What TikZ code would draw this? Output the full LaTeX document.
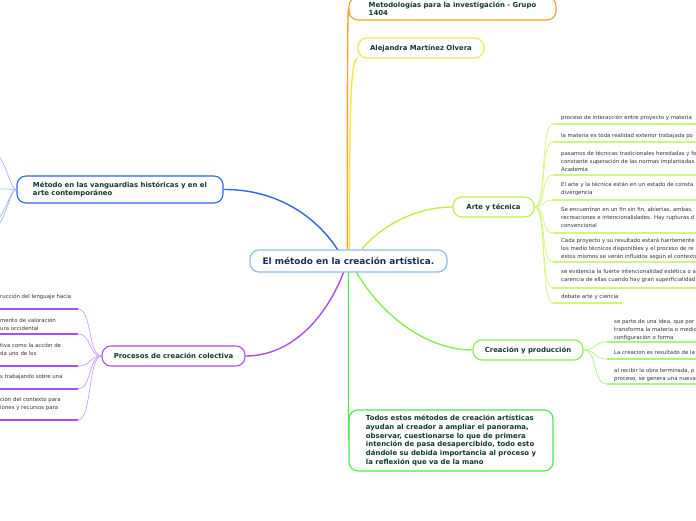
\documentclass[tikz,border=0pt]{standalone}
\usepackage{fontspec}
\setmainfont{DejaVu Sans}
\definecolor{headc}{HTML}{0F3A2E}
\definecolor{centc}{HTML}{1B2D50}
\definecolor{subtc}{HTML}{333333}
\definecolor{cbord}{HTML}{8CBDE8}
\definecolor{orng}{HTML}{F7A12C}
\definecolor{yell}{HTML}{F4E83C}
\definecolor{lime}{HTML}{BDF043}
\definecolor{limel}{HTML}{CFF57A}
\definecolor{grn}{HTML}{86EE50}
\definecolor{grnl}{HTML}{A6F57F}
\definecolor{bgrn}{HTML}{4CE84C}
\definecolor{blu}{HTML}{2F63EA}
\definecolor{blul}{HTML}{9DB6F5}
\definecolor{purp}{HTML}{A84CF5}
\definecolor{purpl}{HTML}{CF9CFA}
\begin{document}
\begin{tikzpicture}[x=1pt,y=-1pt,
  topic/.style={draw, rounded corners=9pt, fill=white, line width=1.1pt, text=headc,
    font=\bfseries\fontsize{6.9}{8}\selectfont, inner ysep=0pt, minimum height=20pt, align=left},
  central/.style={draw=cbord, rounded corners=9pt, fill=white, line width=1.2pt, text=centc,
    font=\bfseries\fontsize{8.9}{10}\selectfont, minimum width=197pt, minimum height=22pt, inner sep=0pt},
  subtext/.style={anchor=north west, inner sep=0pt, text=subtc, align=left,
    font=\fontsize{5.4}{8}\selectfont},
  mainline/.style={line width=1.4pt},
  subline/.style={line width=0.7pt},
  uline/.style={line width=1.8pt}
]
\useasboundingbox (0,0) rectangle (696,520);

% central
\node[central] (c) at (348.5,261) {El método en la creación artística.};

% topics
\node[topic, draw=orng, minimum width=207pt, minimum height=23pt] (orange) at (452.5,8.5)
  {Metodologías para la investigación - Grupo\\1404\hspace*{148pt}};
\node[topic, draw=yell, minimum width=126pt] (ale) at (421,48) {Alejandra Martínez Olvera};
\node[topic, draw=lime, minimum width=81pt] (arte) at (493.5,207) {Arte y técnica};
\node[topic, draw=grn, minimum width=110pt] (crea) at (528,350) {Creación y producción};
\node[topic, draw=bgrn, minimum width=204pt, minimum height=61pt,
  font=\bfseries\fontsize{6.9}{8.8}\selectfont] (todos) at (451,440.5)
  {Todos estos métodos de creación artísticas\\ayudan al creador a ampliar el panorama,\\observar, cuestionarse lo que de primera\\intención de pasa desapercibido, todo esto\\dándole su debida importancia al proceso y\\la reflexión que va de la mano};
\node[topic, draw=blu, minimum width=206pt, minimum height=27pt] (blue) at (120,189.5)
  {Método en las vanguardias históricas y en el\\arte contemporáneo};
\node[topic, draw=purp, minimum width=143pt] (purple) at (173.5,356) {Procesos de creación colectiva};

% main connectors
\draw[mainline, orng] ([xshift=-1.2pt]c.north) .. controls (347.3,120) and (347.3,20) .. (orange.west);
\draw[mainline, yell] ([xshift=0.8pt]c.north) .. controls (349.8,120) and (349.8,60) .. (ale.south west);
\draw[mainline, blu] ([xshift=-11pt]c.north) .. controls (315,215) and (275,189) .. (blue.east);
\draw[mainline, purp] ([xshift=-5pt]c.south) .. controls (325,320) and (290,356) .. (purple.east);
\draw[mainline, lime] ([xshift=13pt]c.north) .. controls (385,222) and (420,207) .. (arte.west);
\draw[mainline, grn] ([xshift=8pt]c.south) .. controls (385,320) and (430,350) .. (crea.west);
\draw[mainline, bgrn] (c.south) .. controls (348.5,330) and (348.5,420) .. (todos.west);

% Arte y tecnica sub-items
\foreach \n/\u in {1/124,2/142,3/175,4/200,5/233,6/262,7/288,8/303}{
  \coordinate (a\n) at (553,\u);
  \draw[subline, limel] (arte.east) .. controls (547,207) and (540,\u) .. (a\n);
}
\foreach \n in {1,...,7}{ \draw[uline, limel] (a\n) -- ++(150,0); }
\draw[uline, limel] (a8) -- (622,303);
\node[subtext] (t1) at (561,115) {proceso de interacción entre proyecto y materia};
\node[subtext] (t2) at (561,133) {la materia es toda realidad exterior trabajada po};
\node[subtext] (t3) at (561,151) {pasamos de técnicas tradicionales heredadas y fo\\constante superación de las normas implantadas\\Academia};
\node[subtext] (t4) at (561,182) {El arte y la técnica están en un estado de consta\\divergencia};
\node[subtext] (t5) at (561,207) {Se encuentran en un fin sin fin, abiertas, ambas,\\recreaciones e intencionalidades. Hay rupturas d\\convencional};
\node[subtext] (t6) at (561,238) {Cada proyecto y su resultado estará fuertemente\\los medio técnicos disponibles y el proceso de re\\estos mismos se verán influidos según el contexto};
\node[subtext] (t7) at (561,269) {se evidencia la fuerte intencionalidad estética o a\\carencia de ellas cuando hay gran superficialidad};
\node[subtext] (t8) at (561,294) {debate arte y ciencia};

% Creacion sub-items
\foreach \n/\u in {1/342,2/359,3/384}{
  \coordinate (b\n) at (607,\u);
  \draw[subline, grnl] (crea.east) .. controls (598,350) and (592,\u) .. (b\n);
  \draw[uline, grnl] (b\n) -- ++(100,0);
}
\node[subtext] (s1) at (614,319) {se parte de una idea, que por\\transforma la materia o medio\\configuración o forma};
\node[subtext] (s2) at (614,350) {La creacion es resultado de la};
\node[subtext] (s3) at (614,368) {al recibir la obra terminada, p\\proceso, se genera una nueva};

% Purple sub-items
\foreach \n/\u in {1/309,2/334,3/366,4/389,5/420}{
  \coordinate (p\n) at (78,\u);
  \draw[subline, purpl] (purple.west) .. controls (88,356) and (92,\u) .. (p\n);
  \draw[uline, purp] (p\n) -- ++(-90,0);
}
\node[subtext] (q1) at (0,294) {rucción del lenguaje hacia};
\node[subtext] (q2) at (0,318) {mento de valoración\\ura occidental};
\node[subtext] (q3) at (0,343) {tiva como la acción de\\da uno de los};
\node[subtext] (q4) at (0,374) {s trabajando sobre una};
\node[subtext] (q5) at (0,397) {ción del contexto para\\iones y recursos para};

% Blue sub-connectors
\coordinate (v1) at (-20,145);
\coordinate (v2) at (-10,189);
\coordinate (v3) at (-20,228);
\coordinate (v4) at (-25,240);
\foreach \n/\u in {1/145,2/189,3/228,4/240}{
  \draw[subline, blul] (blue.west) .. controls (8,189) and (6,\u) .. (v\n);
}
\end{tikzpicture}
\end{document}
